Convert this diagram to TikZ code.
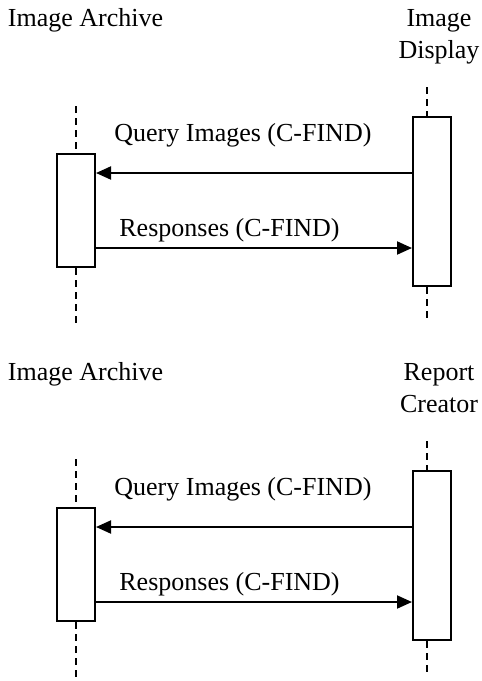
\documentclass[tikz,border=0pt]{standalone}
\usepackage{fontspec}
\setmainfont{Liberation Serif}
\usetikzlibrary{arrows.meta}
\begin{document}
\begin{tikzpicture}[x=0.5pt,y=-0.5pt,
  lbl/.style={font=\fontsize{13pt}{15.8pt}\selectfont, inner sep=0pt},
  actor/.style={lbl, align=center},
  actbox/.style={draw, line width=1pt, fill=white, inner sep=0pt, minimum width=19pt},
  life/.style={line width=0.7pt, dash pattern=on 3.5pt off 2.5pt},
  msg/.style={line width=1pt, -{Triangle[length=7.5pt,width=6.5pt]}}]
\useasboundingbox (0,0) rectangle (482,681);

% ---------- top diagram ----------
\node[lbl, anchor=base west] (ia1) at (7.5,26.5) {Image Archive};
\node[actor, anchor=base] (id1) at (439,58.3) {Image\\Display};
\node[actbox, minimum height=56.5pt] (ab1) at (76,210.5) {};
\node[actbox, minimum height=84.5pt] (db1) at (432,201.5) {};
\coordinate (al1t) at (76,106);
\coordinate (al1b) at (76,327);
\coordinate (dl1t) at (427,87);
\coordinate (dl1b) at (427,322);
\draw[life] (al1t) -- (ab1.north);
\draw[life] (ab1.south) -- (al1b);
\draw[life] (dl1t) -- (dl1t |- db1.north);
\draw[life] (dl1t |- db1.south) -- (dl1b);
\coordinate (q1) at (0,173);
\coordinate (r1) at (0,248);
\draw[msg] (db1.west |- q1) -- (ab1.east |- q1);
\draw[msg] (ab1.east |- r1) -- (db1.west |- r1);
\node[lbl, anchor=base west] (ql1) at (114,141.5) {Query Images (C-FIND)};
\node[lbl, anchor=base west] (rl1) at (119,236) {Responses (C-FIND)};

% ---------- bottom diagram ----------
\node[lbl, anchor=base west] (ia2) at (7.5,380.5) {Image Archive};
\node[actor, anchor=base] (rc2) at (439,412.3) {Report\\Creator};
\node[actbox, minimum height=56.5pt] (ab2) at (76,564.5) {};
\node[actbox, minimum height=84.5pt] (cb2) at (432,555.5) {};
\coordinate (al2t) at (76,459);
\coordinate (al2b) at (76,681);
\coordinate (cl2t) at (427,441);
\coordinate (cl2b) at (427,675);
\draw[life] (al2t) -- (ab2.north);
\draw[life] (ab2.south) -- (al2b);
\draw[life] (cl2t) -- (cl2t |- cb2.north);
\draw[life] (cl2t |- cb2.south) -- (cl2b);
\coordinate (q2) at (0,527);
\coordinate (r2) at (0,602);
\draw[msg] (cb2.west |- q2) -- (ab2.east |- q2);
\draw[msg] (ab2.east |- r2) -- (cb2.west |- r2);
\node[lbl, anchor=base west] (ql2) at (114,495.5) {Query Images (C-FIND)};
\node[lbl, anchor=base west] (rl2) at (119,590) {Responses (C-FIND)};
\end{tikzpicture}
\end{document}
